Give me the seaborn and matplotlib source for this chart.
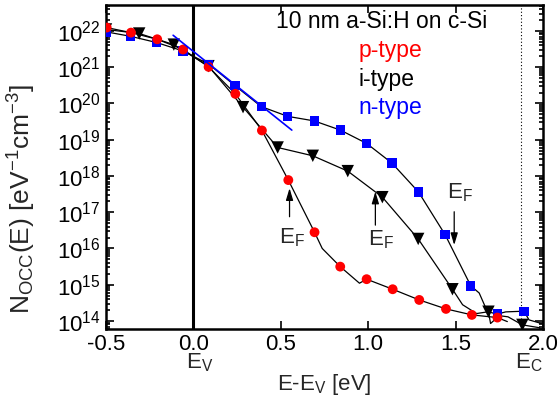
import matplotlib
matplotlib.use("Agg")
import matplotlib.pyplot as plt
import seaborn as sns
from matplotlib.ticker import LogLocator, NullFormatter
from matplotlib.transforms import blended_transform_factory

# ---------------- data ----------------
# p-type (red circles)
E_p = [-0.496, -0.357, -0.207, -0.059, 0.087, 0.240, 0.392, 0.543, 0.693,
       0.840, 0.991, 1.140, 1.292, 1.445, 1.593, 1.739]
N_p = [1.24e22, 9.0e21, 5.9e21, 3.08e21, 1.02e21, 1.84e20, 1.8e19, 7.7e17,
       2.8e16, 3.15e15, 1.42e15, 7.5e14, 3.8e14, 2.15e14, 1.47e14, 1.24e14]
E_p_line = [-0.496, -0.357, -0.207, -0.059, 0.087, 0.240, 0.392, 0.543, 0.693,
            0.737, 0.840, 0.950, 0.991, 1.140, 1.292, 1.445, 1.593, 1.739, 1.796]
N_p_line = [1.24e22, 9.0e21, 5.9e21, 3.08e21, 1.02e21, 1.84e20, 1.8e19, 7.7e17,
            2.8e16, 1.0e16, 3.15e15, 1.1e15, 1.42e15, 7.5e14, 3.8e14, 2.15e14,
            1.47e14, 1.24e14, 9.6e13]

# i-type (black down triangles)
E_i = [-0.5, -0.310, -0.112, 0.086, 0.284, 0.482, 0.683, 0.883, 1.081,
       1.286, 1.482, 1.688, 1.882]
N_i = [1.1e22, 8.5e21, 4.2e21, 1.07e21, 7.9e19, 6.1e18, 3.6e18, 1.36e18,
       2.6e17, 1.83e16, 7.5e14, 1.8e14, 7.8e13]
E_i_line = [-0.5, -0.310, -0.112, 0.086, 0.284, 0.482, 0.683, 0.883, 1.081,
            1.286, 1.482, 1.54, 1.62, 1.688, 1.70, 1.75, 1.80, 1.882, 1.98]
N_i_line = [1.1e22, 8.5e21, 4.2e21, 1.07e21, 7.9e19, 6.1e18, 3.6e18, 1.36e18,
            2.6e17, 1.83e16, 7.5e14, 2.8e14, 1.6e14, 1.8e14, 8.5e13, 1.4e14,
            1.3e14, 7.8e13, 6.5e13]

# n-type (blue squares)
E_n = [-0.496, -0.359, -0.211, -0.059, 0.088, 0.238, 0.388, 0.540, 0.691,
       0.841, 0.991, 1.136, 1.288, 1.440, 1.587, 1.739, 1.891]
N_n = [9.4e21, 7.1e21, 4.8e21, 2.8e21, 1.21e21, 3.1e20, 8.2e19, 4.4e19,
       3.3e19, 1.84e19, 7.9e18, 2.26e18, 3.6e17, 2.4e16, 9.3e14, 1.55e14,
       1.86e14]
E_n_line = [-0.496, -0.359, -0.211, -0.059, 0.088, 0.238, 0.388, 0.540, 0.691,
            0.841, 0.991, 1.136, 1.288, 1.440, 1.587, 1.635, 1.682, 1.739,
            1.787, 1.891, 1.920, 1.977]
N_n_line = [9.4e21, 7.1e21, 4.8e21, 2.8e21, 1.21e21, 3.1e20, 8.2e19, 4.4e19,
            3.3e19, 1.84e19, 7.9e18, 2.26e18, 3.6e17, 2.4e16, 9.3e14, 5.9e14,
            1.8e14, 1.55e14, 1.78e14, 1.86e14, 1.07e14, 8.9e13]

# blue fit line
E_fit = [-0.116, 0.563]
N_fit = [7.6e21, 1.84e19]

# Fermi-level arrows: (x, tail N, head N, text N)
EF_x = [0.550, 1.041, 1.492]
EF_tail = [7.5e16, 4.4e16, 1.03e17]
EF_head = [4.6e17, 3.7e17, 1.24e16]
EF_text_x = [0.562, 1.075, 1.526]
EF_text_N = [1.95e16, 1.7e16, 3.4e17]

E_V_pos = 0.0
E_C_pos = 1.877

xticks = [-0.5, 0.0, 0.5, 1.0, 1.5, 2.0]
xticklabels = ["-0.5", "0.0", "0.5", "1.0", "1.5", "2.0"]

# ---------------- style ----------------
sns.set_theme(style="ticks")
plt.rcParams["font.family"] = ["Liberation Sans", "DejaVu Sans"]
plt.rcParams["mathtext.fontset"] = "custom"
plt.rcParams["mathtext.rm"] = "Liberation Sans"
plt.rcParams["mathtext.it"] = "Liberation Sans"
plt.rcParams["mathtext.default"] = "regular"

fig = plt.figure(figsize=(5.6, 4.03), dpi=100)
ax = fig.add_axes([106/560, 1-329/403, (543-106)/560, (329-4.7)/403])

FS = 16

# lines
for E, N in [(E_p_line, N_p_line), (E_i_line, N_i_line), (E_n_line, N_n_line)]:
    sns.lineplot(x=E, y=N, ax=ax, color="black", lw=0.9, sort=False,
                 estimator=None, zorder=2)
sns.lineplot(x=E_fit, y=N_fit, ax=ax, color="#0000ff", lw=1.2, sort=False,
             estimator=None, zorder=4)

# markers
sns.scatterplot(x=E_i, y=N_i, ax=ax, marker="v", color="black", s=80,
                edgecolor="none", zorder=3)
sns.scatterplot(x=E_n, y=N_n, ax=ax, marker="s", color="#0000ff", s=45,
                edgecolor="none", zorder=3)
sns.scatterplot(x=E_p, y=N_p, ax=ax, marker="o", color="#ff0000", s=50,
                edgecolor="none", zorder=3)

ax.set_yscale("log")
ax.set_xlim(-0.5, 2.0)
ax.set_ylim(6e13, 5.3e22)
ax.yaxis.set_major_locator(LogLocator(base=10, numticks=30))
ax.yaxis.set_minor_locator(LogLocator(base=10, subs=range(2, 10), numticks=30))
ax.yaxis.set_minor_formatter(NullFormatter())

# vertical lines
ax.axvline(E_V_pos, color="black", lw=2.2, zorder=1)
ax.axvline(E_C_pos, color="black", lw=0.8, ls=(0, (1, 2)), zorder=1)

# EF arrows and labels
for x, t, h, tx, tn in zip(EF_x, EF_tail, EF_head, EF_text_x, EF_text_N):
    ax.annotate("", xy=(x, h), xytext=(x, t),
                arrowprops=dict(arrowstyle="-|>,head_length=0.6,head_width=0.18",
                                color="black", lw=0.9, shrinkA=0, shrinkB=0))
    ax.text(tx, tn, r"E$_F$", fontsize=FS, ha="center", va="center")

# texts
ax.text(0.39, 0.948, "10 nm a-Si:H on c-Si", transform=ax.transAxes,
        fontsize=FS + 0.5, ha="left", va="center", color="black")
ax.text(0.577, 0.860, "p-type", transform=ax.transAxes, fontsize=FS + 0.5,
        ha="left", va="center", color="#ff0000")
ax.text(0.577, 0.768, "i-type", transform=ax.transAxes, fontsize=FS + 0.5,
        ha="left", va="center", color="black")
ax.text(0.577, 0.684, "n-type", transform=ax.transAxes, fontsize=FS + 0.5,
        ha="left", va="center", color="#0000ff")

trans = blended_transform_factory(ax.transData, ax.transAxes)
ax.text(0.037, -0.105, r"E$_V$", transform=trans, fontsize=FS,
        ha="center", va="center")
ax.text(1.92, -0.105, r"E$_C$", transform=trans, fontsize=FS,
        ha="center", va="center")

# axes styling
ax.set_xticks(xticks)
ax.set_xticklabels(xticklabels)
ax.tick_params(which="both", direction="in", top=True, right=True,
               labelsize=FS, width=1.2, colors="black")
ax.tick_params(which="major", length=6)
ax.tick_params(which="minor", length=3)
ax.tick_params(axis="x", which="minor", bottom=False, top=False)
ax.tick_params(axis="y", which="major", pad=4)
for s in ax.spines.values():
    s.set_linewidth(1.8)
    s.set_color("black")

ax.set_xlabel(r"E-E$_V$ [eV]", fontsize=FS, labelpad=12)
ax.set_ylabel(r"N$_{OCC}$(E) [eV$^{-1}$cm$^{-3}$]", fontsize=19)
ax.yaxis.set_label_coords(-0.156, 0.40)

fig.savefig("out.png", dpi=100)
